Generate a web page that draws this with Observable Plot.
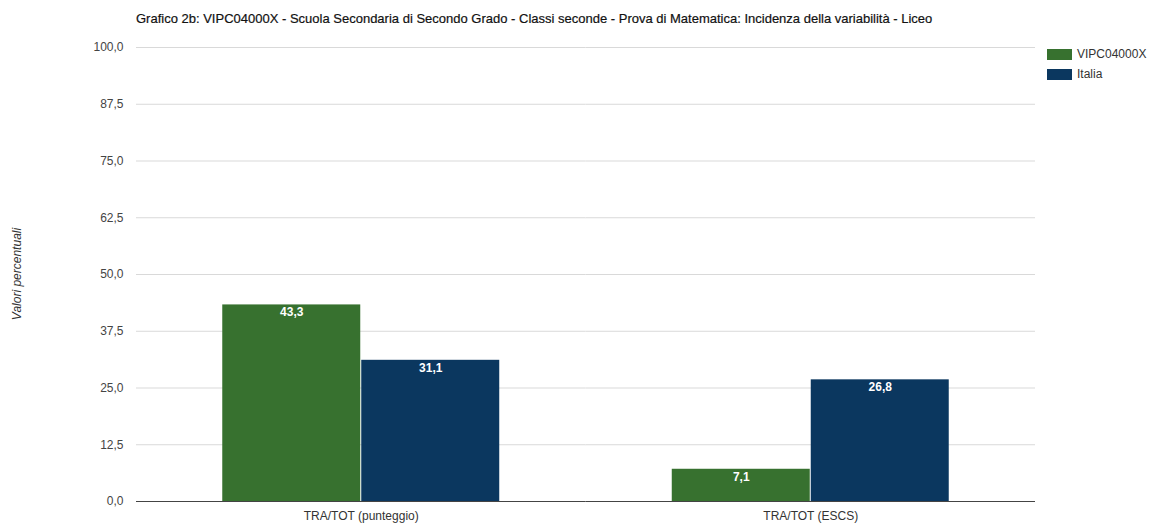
<!DOCTYPE html>
<html>
<head>
<meta charset="utf-8">
<script src="https://cdn.jsdelivr.net/npm/d3@7"></script>
<script src="https://cdn.jsdelivr.net/npm/@observablehq/plot@0.6"></script>
<style>
  body { margin: 0; background: #fff; font-family: "Liberation Sans", Arial, sans-serif; }
  #wrap { position: relative; width: 1149px; height: 525px; }
  #title { position: absolute; left: 136px; top: 11px; font-size: 13px; color: #111; white-space: nowrap; -webkit-text-stroke: 0.2px #111; }
  #chart { position: absolute; left: 0; top: 30px; }
  #ylabel { position: absolute; left: 17px; top: 274px; transform: translate(-50%, -50%) rotate(-90deg); font-size: 12px; font-style: italic; color: #333; white-space: nowrap; }
  .legend { position: absolute; left: 1047px; font-size: 12px; color: #333; display: flex; align-items: center; }
  .legend span.sw { display: inline-block; width: 25px; height: 11px; margin-right: 5px; }
</style>
</head>
<body>
<div id="wrap">
  <div id="title"></div>
  <div id="chart"></div>
  <div id="ylabel"></div>
  <div id="legend"></div>
</div>
<script>
const titleText = "Grafico 2b: VIPC04000X - Scuola Secondaria di Secondo Grado - Classi seconde - Prova di Matematica: Incidenza della variabilità - Liceo";
const categories = ["TRA/TOT (punteggio)", "TRA/TOT (ESCS)"];
const series = ["VIPC04000X", "Italia"];
const schoolValues = [43.3, 7.1];
const italiaValues = [31.1, 26.8];
const colors = ["#37712f", "#0b375f"];
const yTicks = [0, 12.5, 25, 37.5, 50, 62.5, 75, 87.5, 100];
const yLabel = "Valori percentuali";

const data = [];
categories.forEach((c, i) => {
  data.push({cat: c, series: series[0], value: schoolValues[i]});
  data.push({cat: c, series: series[1], value: italiaValues[i]});
});

const fmt = v => v.toFixed(1).replace(".", ",");

document.getElementById("title").textContent = titleText;
document.getElementById("ylabel").textContent = yLabel;

const chart = Plot.plot({
  width: 1149,
  height: 495,
  marginLeft: 136,
  marginRight: 114,
  marginTop: 17,
  marginBottom: 24,
  style: {fontFamily: "Liberation Sans, Arial, sans-serif", fontSize: "12px", color: "#444"},
  fx: {domain: categories, padding: 0, round: false},
  x: {domain: series, paddingInner: 0, paddingOuter: 0.617, round: false, axis: null},
  y: {domain: [0, 100]},
  color: {domain: series, range: colors},
  marks: [
    Plot.gridY(yTicks, {stroke: "#d9d9d9", strokeOpacity: 1}),
    Plot.axisY(yTicks, {tickSize: 0, tickPadding: 13, tickFormat: fmt, label: null, fill: "#444"}),
    Plot.axisFx({anchor: "bottom", tickSize: 0, tickPadding: 10, label: null, fill: "#333"}),
    Plot.barY(data, {fx: "cat", x: "series", y: "value", fill: "series", insetLeft: 0.5, insetRight: 0.5}),
    Plot.text(data, {fx: "cat", x: "series", y: "value", text: d => fmt(d.value), fill: "white", fontWeight: "bold", lineAnchor: "top", dy: 3, fontSize: 12}),
    Plot.ruleY([0], {stroke: "#444", strokeWidth: 1})
  ]
});
document.getElementById("chart").appendChild(chart);

const legend = document.getElementById("legend");
series.forEach((s, i) => {
  const div = document.createElement("div");
  div.className = "legend";
  div.style.top = (47 + i * 20) + "px";
  div.innerHTML = `<span class="sw" style="background:${colors[i]}"></span>${s}`;
  legend.appendChild(div);
});
</script>
</body>
</html>
